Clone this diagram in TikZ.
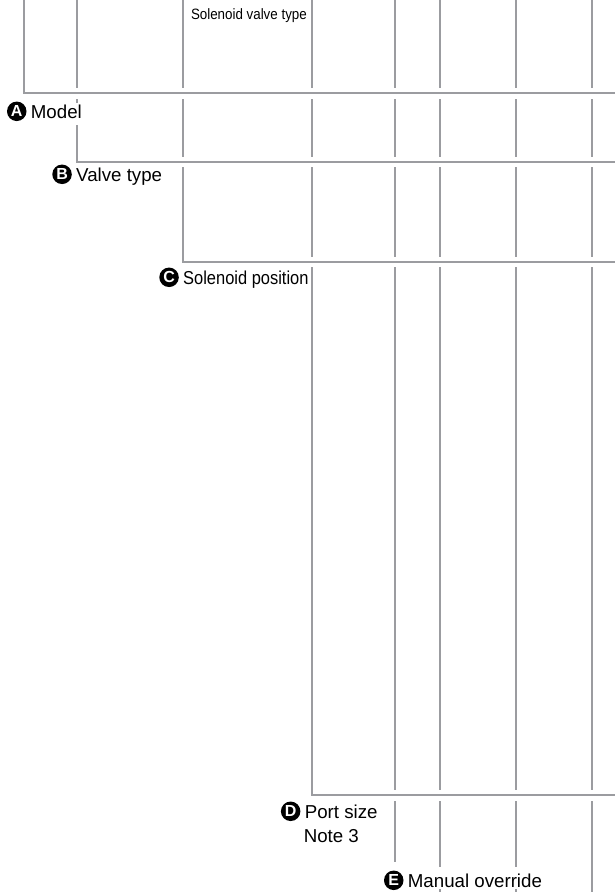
\documentclass[tikz,border=0pt]{standalone}
\usepackage{fontspec}
\setmainfont{Liberation Sans}
\usetikzlibrary{positioning}
\definecolor{ke}{RGB}{155,156,160}
\begin{document}
\begin{tikzpicture}[x=1pt,y=-1pt,line cap=butt]
		\useasboundingbox (0,0) rectangle (615,892);
		\tikzset{vach/.style={draw=ke,line width=2pt},
		lbl/.style={inner sep=0pt,text height=13.4pt,text depth=0pt,font=\fontsize{18.7}{22}\selectfont},
		tag/.style={circle,fill=black,text=white,inner sep=0pt,minimum size=19.5pt,font=\fontsize{16}{16}\selectfont}}
		%cột dọc
		\foreach \x in {77,183,312,395,440,516,592} \draw[vach] (\x,0)--(\x,88);
		\foreach \x in {183,312,395,440,516,592} \draw[vach] (\x,99)--(\x,157);
		\foreach \x in {312,395,440,516,592} \draw[vach] (\x,167)--(\x,257);
		\foreach \x in {395,440,516,592} \draw[vach] (\x,267)--(\x,790);
		\foreach \x/\y in {395/862,440/867,516/867,592/892} \draw[vach] (\x,801)--(\x,\y);
		\foreach \x in {440,516} \draw[vach] (\x,889)--(\x,892);
		%móc ngang
		\draw[vach] (24,0)--(24,93)--(615,93);
		\draw[vach] (77,99)--(77,103) (77,125)--(77,162)--(615,162);
		\draw[vach] (183,167)--(183,262)--(615,262);
		\draw[vach] (312,267)--(312,795)--(615,795);
		%nhãn
		\node[lbl,anchor=base east,font=\fontsize{15}{18}\selectfont,text height=11pt] (loai) at (307,19) {\scalebox{0.89}[1]{Solenoid valve type}};
		\node[lbl,anchor=base west] (model) at (30.7,118) {Model};
		\node[lbl,anchor=base west] (valve) at (76,181) {Valve type};
		\node[lbl,anchor=base west] (vitri) at (183,284) {\scalebox{0.88}[1]{Solenoid position}};
		\node[lbl,anchor=base west] (port) at (304.6,818) {Port size};
		\node[lbl,anchor=base west] (note) at (303.6,842) {Note 3};
		\node[lbl,anchor=base west] (manual) at (407.7,887) {Manual override};
		\foreach \t/\c in {model/A,valve/B,vitri/C,port/D,manual/E}
		\node[tag,left=4pt of \t] (tag\c) {\textbf{\c}};
	\end{tikzpicture}
\end{document}
